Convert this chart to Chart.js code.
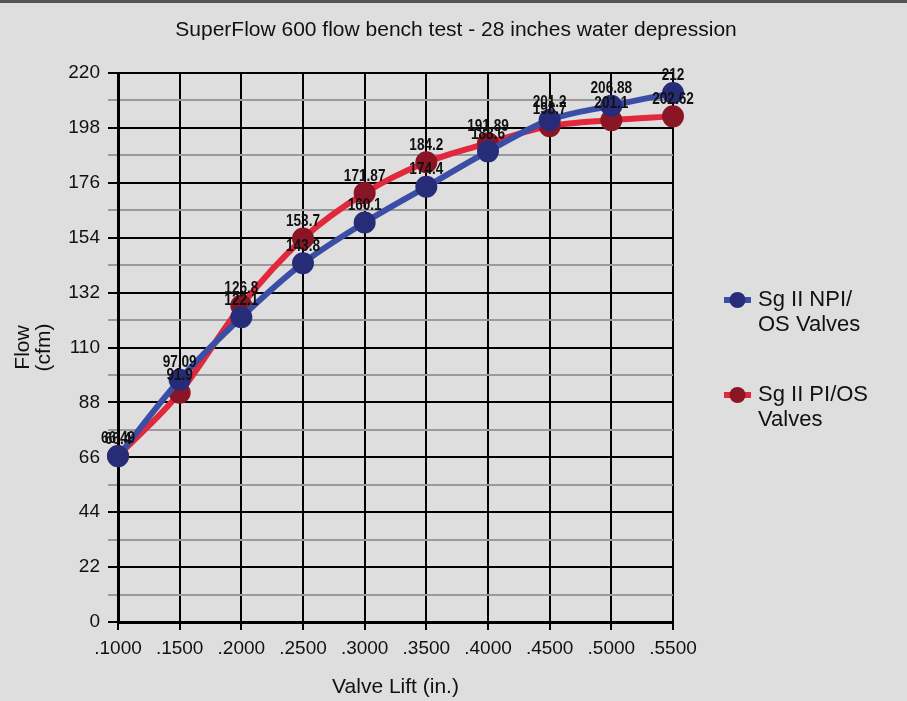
<!DOCTYPE html>
<html><head><meta charset="utf-8">
<script src="https://cdn.jsdelivr.net/npm/chart.js@4/dist/chart.umd.min.js"></script>
<style>
html,body{margin:0;padding:0;background:#dddedd;}
#wrap{width:907px;height:701px;position:relative;}
</style></head>
<body><div id="wrap"><canvas id="c" width="907" height="701"></canvas></div>
<script>
const categories = ['.1000','.1500','.2000','.2500','.3000','.3500','.4000','.4500','.5000','.5500'];
const npiValues = [66.4, 97.09, 122.1, 143.8, 160.1, 174.4, 188.6, 201.2, 206.88, 212];
const piValues = [66.49, 91.9, 126.8, 153.7, 171.87, 184.2, 191.89, 198.7, 201.1, 202.62];
const npiLabel = ['Sg II NPI/', 'OS Valves'];
const piLabel = ['Sg II PI/OS', 'Valves'];
const titleText = 'SuperFlow 600 flow bench test - 28 inches water depression';
const xTitle = 'Valve Lift (in.)';
const yTitle = ['Flow', '(cfm)'];

const FONT = "'Liberation Sans', Arial, sans-serif";

const bgPlugin = {
  id: 'bg',
  beforeDraw(chart) {
    const ctx = chart.ctx;
    ctx.save();
    ctx.fillStyle = '#dddedd';
    ctx.fillRect(0, 0, chart.width, chart.height);
    ctx.fillStyle = '#555555';
    ctx.fillRect(0, 0, chart.width, 3);
    ctx.fillStyle = '#111';
    ctx.font = '21px ' + FONT;
    ctx.textAlign = 'center';
    ctx.textBaseline = 'middle';
    ctx.fillText(titleText, 456, 30);
    ctx.restore();
  }
};

const labelPlugin = {
  id: 'pointLabels',
  afterDatasetsDraw(chart) {
    const ctx = chart.ctx;
    for (let d = chart.data.datasets.length - 1; d >= 0; d--) {
      const meta = chart.getDatasetMeta(d);
      const ds = chart.data.datasets[d];
      meta.data.forEach((pt, i) => {
        ctx.save();
        ctx.font = 'bold 16px ' + FONT;
        ctx.fillStyle = '#111';
        ctx.textAlign = 'center';
        ctx.textBaseline = 'middle';
        ctx.translate(pt.x, pt.y - 17);
        ctx.scale(0.85, 1);
        ctx.fillText(String(ds.data[i]), 0, 0);
        ctx.restore();
      });
    }
  }
};

const legendPlugin = {
  id: 'customLegend',
  afterDraw(chart) {
    const ctx = chart.ctx;
    const items = [
      {lines: npiLabel, line: '#3b4ea6', pt: '#272c78', y: 300},
      {lines: piLabel, line: '#e2283c', pt: '#8a1525', y: 395}
    ];
    ctx.save();
    items.forEach(it => {
      ctx.strokeStyle = it.line;
      ctx.lineWidth = 6;
      ctx.beginPath();
      ctx.moveTo(724, it.y);
      ctx.lineTo(751, it.y);
      ctx.stroke();
      ctx.fillStyle = it.pt;
      ctx.beginPath();
      ctx.arc(737.5, it.y, 8, 0, Math.PI * 2);
      ctx.fill();
      ctx.fillStyle = '#111';
      ctx.font = '22px ' + FONT;
      ctx.textAlign = 'left';
      ctx.textBaseline = 'middle';
      it.lines.forEach((t, k) => ctx.fillText(t, 758, it.y + k * 25));
    });
    ctx.restore();
  }
};

new Chart(document.getElementById('c'), {
  type: 'line',
  data: {
    labels: categories,
    datasets: [
      {
        label: npiLabel.join(' '),
        data: npiValues,
        borderColor: '#3b4ea6',
        backgroundColor: '#272c78',
        pointBackgroundColor: '#272c78',
        pointBorderColor: '#272c78',
        borderWidth: 6,
        pointRadius: 8,
        tension: 0.4,
        cubicInterpolationMode: 'monotone'
      },
      {
        label: piLabel.join(' '),
        data: piValues,
        borderColor: '#e2283c',
        backgroundColor: '#8a1525',
        pointBackgroundColor: '#8a1525',
        pointBorderColor: '#8a1525',
        borderWidth: 6,
        pointRadius: 8,
        tension: 0.4,
        cubicInterpolationMode: 'monotone'
      }
    ]
  },
  options: {
    responsive: false,
    animation: false,
    devicePixelRatio: 1,
    layout: {padding: {left: 13, right: 234, top: 73, bottom: 0}},
    plugins: {
      legend: {display: false},
      tooltip: {enabled: false},
      title: {display: false}
    },
    scales: {
      x: {
        offset: false,
        grid: {color: '#000', lineWidth: 2, tickLength: 8, tickColor: '#000'},
        border: {color: '#000', width: 3},
        ticks: {color: '#111', font: {family: FONT, size: 19}, padding: 7, maxRotation: 0, autoSkip: false},
        title: {display: true, text: xTitle, color: '#111', font: {family: FONT, size: 21}, padding: {top: 4, bottom: 1}},
        afterFit(s) { s.height = 79; }
      },
      y: {
        min: 0, max: 220,
        ticks: {
          stepSize: 11,
          color: '#111',
          font: {family: FONT, size: 19},
          padding: 8,
          callback: v => (v % 22 === 0 ? String(v) : '')
        },
        grid: {
          lineWidth: 2,
          tickLength: 10,
          color: c => (c.tick && c.tick.value % 22 === 0 ? '#000' : '#9a9a9a'),
          tickColor: c => (c.tick && c.tick.value % 22 === 0 ? '#000' : '#9a9a9a')
        },
        border: {color: '#000', width: 3},
        title: {display: true, text: yTitle, color: '#111', font: {family: FONT, size: 21, lineHeight: 1.0}, padding: {top: 0, bottom: 4}},
        afterFit(s) { s.width = 105; }
      }
    }
  },
  plugins: [bgPlugin, labelPlugin, legendPlugin]
});
</script></body></html>
